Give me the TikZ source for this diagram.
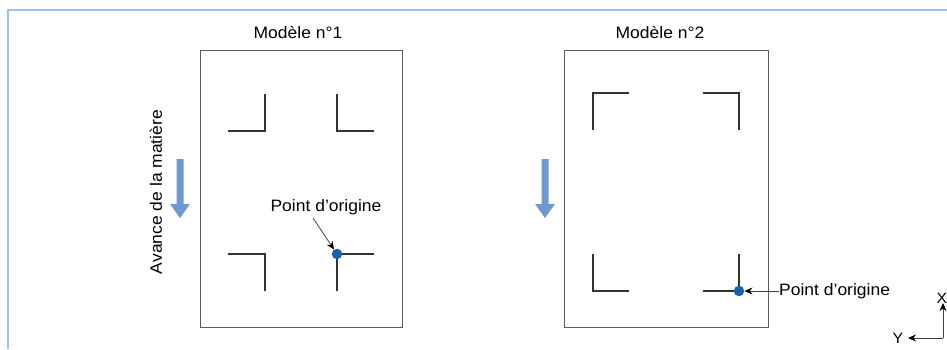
\documentclass[tikz,border=0pt]{standalone}
\usepackage{fontspec}
\setmainfont{Liberation Sans}[FakeStretch=1.06]
\usetikzlibrary{arrows.meta}
\definecolor{framebl}{HTML}{9DC3E6}
\definecolor{arrbl}{HTML}{6F98CF}
\definecolor{dotbl}{HTML}{1F5FA8}
\definecolor{markgr}{HTML}{333333}
\definecolor{rectgr}{HTML}{5A5A5A}
\begin{document}
\begin{tikzpicture}[x=1pt,y=-1pt,
  lbl/.style={inner sep=0pt,font=\fontsize{16.5}{18}\selectfont},
  axlbl/.style={inner sep=0pt,font=\fontsize{15}{17}\selectfont},
  sheet/.style={draw=rectgr,line width=1pt},
  cropmark/.style={draw=markgr,line width=1.6pt},
  odot/.style={circle,fill=dotbl,minimum size=10.5pt,inner sep=0pt},
  ptr/.style={draw=black!75,line width=0.8pt,-{Stealth[length=8pt,width=7pt,color=black]}},
  feed/.style={fill=arrbl}]
\useasboundingbox (0,0) rectangle (947,349);
% outer frame
\draw[framebl,line width=2pt] (8,349) -- (8,10) -- (947,10);

% ---------- Model 1 ----------
\node[lbl] (t1) at (298,33) {Modèle n°1};
\draw[sheet] (200,50) rectangle (402,327);
\draw[cropmark] (228,131) -- (265,131) -- (265,94);
\draw[cropmark] (337,94) -- (337,131) -- (374,131);
\draw[cropmark] (228,254) -- (265,254) -- (265,291);
\draw[cropmark] (374,254) -- (337,254) -- (337,291);
\node[odot] (dot1) at (337,254) {};
\node[lbl] (po1) at (326,207) {Point d’origine};
\coordinate (po1s) at (313,218);
\draw[ptr] (po1s) -- (dot1);
\fill[feed] (176.5,159) -- (183.5,159) -- (183.5,204) -- (190,204) -- (180,218) -- (170,204) -- (176.5,204) -- cycle;
\node[lbl,rotate=90] (feedlbl) at (156,192) {Avance de la matière};

% ---------- Model 2 ----------
\node[lbl] (t2) at (660,33) {Modèle n°2};
\draw[sheet] (564,50) rectangle (768,327);
\draw[cropmark] (593,130) -- (593,93) -- (629,93);
\draw[cropmark] (703,93) -- (739,93) -- (739,130);
\draw[cropmark] (593,254) -- (593,291) -- (629,291);
\draw[cropmark] (739,254) -- (739,291) -- (703,291);
\node[odot] (dot2) at (739,291) {};
\node[lbl,anchor=west] (po2) at (779,291) {Point d’origine};
\draw[ptr] (po2.west) -- (dot2);
\fill[feed] (541.5,159) -- (548.5,159) -- (548.5,204) -- (555,204) -- (545,218) -- (535,204) -- (541.5,204) -- cycle;

% ---------- axes ----------
\coordinate (axo) at (943,338);
\node[axlbl] (ax) at (942,298) {X};
\node[axlbl] (ay) at (898,338) {Y};
\draw[ptr] (axo) -- (943,303);
\draw[ptr] (axo) -- (908,338);
\end{tikzpicture}
\end{document}
